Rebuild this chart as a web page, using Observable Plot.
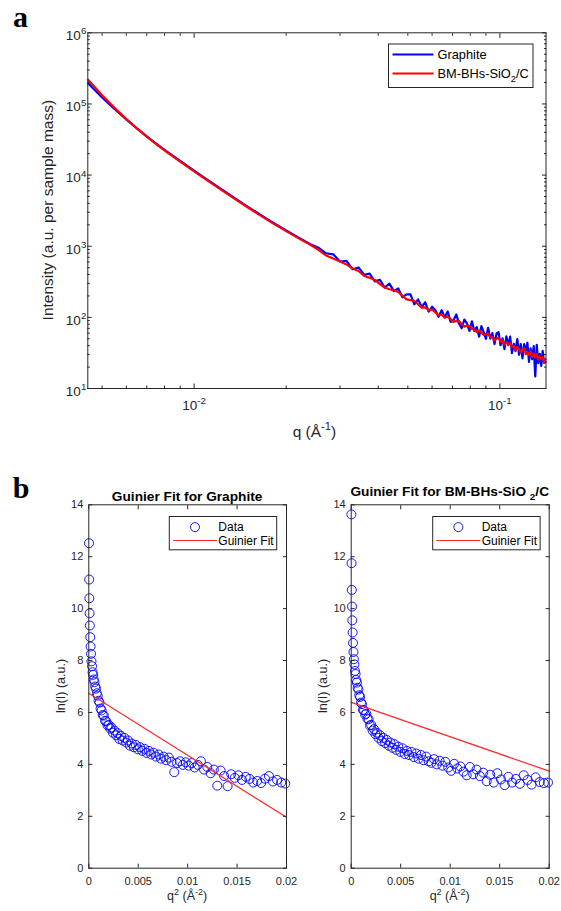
<!DOCTYPE html>
<html>
<head>
<meta charset="utf-8">
<script src="https://cdn.jsdelivr.net/npm/d3@7"></script>
<script src="https://cdn.jsdelivr.net/npm/@observablehq/plot@0.6"></script>
<style>
  html, body { margin: 0; padding: 0; background: #fff; }
  #root { position: relative; width: 561px; height: 911px; overflow: hidden; background: #fff; }
</style>
</head>
<body>
<div id="root"></div>
<script>
// ---------------- DATA ----------------
// Panel a: scattering intensity vs q (log-log)
const qA = [0.0045, 0.005, 0.0055, 0.006, 0.0065, 0.007, 0.0075, 0.008, 0.009, 0.0105, 0.012, 0.0135, 0.015, 0.0165, 0.018, 0.0195, 0.021, 0.0225, 0.024,
  0.0255, 0.027, 0.0285, 0.03, 0.0315, 0.033, 0.0345, 0.036, 0.0375, 0.039, 0.0405, 0.042, 0.0435, 0.045, 0.0465, 0.048, 0.0495, 0.051, 0.0525, 0.054,
  0.0555, 0.057, 0.0585, 0.06, 0.0615, 0.063, 0.0645, 0.066, 0.0675, 0.069, 0.0705, 0.072, 0.0735, 0.075, 0.0765, 0.078, 0.0795, 0.081, 0.0825, 0.084,
  0.0855, 0.087, 0.0885, 0.09, 0.0915, 0.093, 0.0945, 0.096, 0.0975, 0.099, 0.1005, 0.102, 0.1035, 0.105, 0.1065, 0.108, 0.1095, 0.111, 0.1125, 0.114,
  0.1155, 0.117, 0.1185, 0.12, 0.1215, 0.123, 0.1245, 0.126, 0.1275, 0.129, 0.1305, 0.132, 0.1335, 0.135, 0.1365, 0.138, 0.1395, 0.141];
const graphiteI = [195000, 123600, 84530, 60810, 45390, 35080, 27800, 22650, 15810, 9954, 6776, 4819, 3581, 2754, 2183, 1778, 1476, 1247, 1069,
  955, 796, 769, 608, 622, 474, 502, 396, 413, 321, 337, 263, 298, 234, 255, 192, 210, 210, 152, 179,
  140, 163, 120, 141, 126, 102, 126, 100, 121, 86.1, 90.6, 110, 81.8, 70.3, 93.3, 82.2, 64.4, 87.9, 64.4, 73.1,
  53.7, 75.2, 61.9, 49.9, 71.4, 50.2, 60.0, 42.2, 59.3, 61.7, 40.6, 50.8, 35.8, 54.0, 40.7, 53.6, 31.5, 42.4, 33.6, 49.5,
  29.8, 42.1, 26.5, 42.0, 34.1, 44.0, 23.6, 36.6, 25.9, 39.3, 14.8, 41.2, 22.7, 30.7, 20.8, 33.8, 22.9, 23.5];
const bmI = [218800, 132400, 87500, 61500, 45400, 34750, 27480, 22280, 15450, 9727, 6620, 4710, 3500, 2692, 2133, 1738, 1442, 1219, 1045,
  891, 741, 670, 608, 555, 485, 448, 383, 360, 336, 293, 263, 248, 240, 227, 201, 179, 175, 171, 153,
  137, 138, 126, 129, 117, 107, 110, 99, 103, 94.4, 86.5, 89.1, 88.7, 80.7, 74.1, 76.7, 75.7, 68.2, 67.5, 62.2,
  65.3, 61.1, 56.5, 58.6, 59.4, 52.6, 52.2, 47.3, 50.5, 51.9, 45.5, 47.4, 41.1, 44.9, 41.7, 43.6, 37.8, 39.5, 35.2, 38.5,
  35.8, 31.9, 35.7, 36.6, 30.4, 32.6, 29.7, 33.3, 27.8, 31.2, 27.2, 30.5, 25.5, 28.0, 26.2, 27.5, 23.4, 25.8];
const seriesNamesA = ["Graphite", "BM-BHs-SiO_{2}/C"];
const xDomainA = [0.00449, 0.1415];
const yDomainA = [10, 1e6];
const xMajorA = [0.01, 0.1];
const xMinorA = [0.005, 0.006, 0.007, 0.008, 0.009, 0.02, 0.03, 0.04, 0.05, 0.06, 0.07, 0.08, 0.09];
const yMajorA = [1e1, 1e2, 1e3, 1e4, 1e5, 1e6];
const yMinorA = [20, 30, 40, 50, 60, 70, 80, 90, 200, 300, 400, 500, 600, 700, 800, 900,
  2000, 3000, 4000, 5000, 6000, 7000, 8000, 9000, 2e4, 3e4, 4e4, 5e4, 6e4, 7e4, 8e4, 9e4,
  2e5, 3e5, 4e5, 5e5, 6e5, 7e5, 8e5, 9e5];

// Panel b: Guinier plots, ln(I) vs q^2
const qB = [0.0045, 0.006, 0.0075, 0.009, 0.0105, 0.012, 0.0135, 0.015, 0.0165, 0.018, 0.0195, 0.021, 0.0225, 0.024, 0.0255, 0.027, 0.0285, 0.03,
  0.0315, 0.033, 0.0345, 0.036, 0.0375, 0.039, 0.0405, 0.042, 0.0435, 0.045, 0.0465, 0.048, 0.0495, 0.051, 0.0525, 0.054, 0.0555, 0.057, 0.0585, 0.06,
  0.0615, 0.063, 0.0645, 0.066, 0.0675, 0.069, 0.0705, 0.072, 0.0735, 0.075, 0.0765, 0.078, 0.0795, 0.081, 0.0825, 0.084, 0.0855, 0.087, 0.0885, 0.09,
  0.0915, 0.093, 0.0945, 0.096, 0.0975, 0.099, 0.1005, 0.102, 0.1035, 0.105, 0.1065, 0.108, 0.1095, 0.111, 0.1125, 0.114, 0.1155, 0.117, 0.1185, 0.12,
  0.1215, 0.123, 0.1245, 0.126, 0.1275, 0.129, 0.1305, 0.132, 0.1335, 0.135, 0.1365, 0.138, 0.1395, 0.141];
const graphiteLnI = [12.52, 11.12, 10.40, 9.82, 9.35, 8.90, 8.54, 8.26, 7.97, 7.78,
  7.55, 7.45, 7.27, 7.17, 7.00, 6.92, 6.74, 6.65, 6.45, 6.38,
  6.15, 6.08, 5.90, 5.88, 5.68, 5.66, 5.50, 5.52, 5.38, 5.42,
  5.22, 5.30, 5.12, 5.20, 4.98, 5.10, 4.92, 5.02, 4.84, 4.92,
  4.72, 4.80, 4.66, 4.75, 4.58, 4.66, 4.52, 4.60, 4.44, 4.52,
  4.38, 4.45, 4.30, 4.38, 4.22, 4.30, 4.16, 4.26, 4.10, 3.70,
  4.05, 4.12, 3.98, 4.08, 3.95, 4.05, 3.88, 3.98, 4.12, 3.80,
  3.90, 3.66, 3.80, 3.18, 3.76, 3.55, 3.16, 3.62, 3.48, 3.58,
  3.40, 3.52, 3.44, 3.30, 3.36, 3.28, 3.45, 3.55, 3.34, 3.40,
  3.30, 3.26];
const bmLnI = [13.63, 11.75, 10.72, 10.08, 9.55, 9.08, 8.68, 8.33, 8.05, 7.85,
  7.60, 7.48, 7.25, 7.15, 6.95, 6.88, 6.66, 6.60, 6.38, 6.32,
  6.10, 6.08, 5.92, 5.95, 5.76, 5.74, 5.50, 5.52, 5.30, 5.36,
  5.16, 5.22, 5.02, 5.12, 4.90, 5.02, 4.82, 4.94, 4.72, 4.84,
  4.64, 4.78, 4.56, 4.68, 4.48, 4.62, 4.40, 4.52, 4.36, 4.48,
  4.28, 4.42, 4.22, 4.36, 4.16, 4.30, 4.12, 4.06, 4.20, 4.00,
  4.14, 3.95, 4.10, 3.88, 3.75, 4.02, 3.84, 3.92, 3.72, 3.58,
  3.90, 3.62, 3.80, 3.55, 3.68, 3.35, 3.60, 3.30, 3.66, 3.42,
  3.20, 3.52, 3.30, 3.44, 3.25, 3.58, 3.40, 3.22, 3.50, 3.32,
  3.28, 3.30];
const fitQ2 = [0, 0.02];
const graphiteFit = [6.74, 1.96];
const bmFit = [6.39, 3.74];
const legendNamesB = ["Data", "Guinier Fit"];
const xDomainB = [0, 0.02];
const yDomainB = [0, 14];
const xTicksB = [0, 0.005, 0.01, 0.015, 0.02];
const xTickLabelsB = ["0", "0.005", "0.01", "0.015", "0.02"];
const yTicksB = [0, 2, 4, 6, 8, 10, 12, 14];

// ---------------- STYLE ----------------
const FONT = '"Liberation Sans", Arial, Helvetica, sans-serif';
const SERIF = '"Liberation Serif", "Times New Roman", serif';
const AX = "#262626";
const BLUE = "#0000ff";
const RED = "#ff0000";
const root = document.getElementById("root");

function place(node, left, top) {
  node.style.position = "absolute";
  node.style.left = left + "px";
  node.style.top = top + "px";
  root.appendChild(node);
}

// Rich text: ^{..} superscript, _{..} subscript
function rich(t, str, fs) {
  t.text(null);
  const re = /([\^_])\{([^}]*)\}/g;
  const parts = [];
  let last = 0, m;
  while ((m = re.exec(str))) {
    if (m.index > last) parts.push({ s: str.slice(last, m.index), k: "" });
    parts.push({ s: m[2], k: m[1] });
    last = re.lastIndex;
  }
  if (last < str.length) parts.push({ s: str.slice(last), k: "" });
  let cur = 0;
  for (const p of parts) {
    const target = p.k === "^" ? -0.42 * fs : p.k === "_" ? 0.32 * fs : 0;
    const ts = t.append("tspan").text(p.s);
    if (target !== cur) ts.attr("dy", (target - cur).toFixed(2));
    if (p.k) ts.attr("font-size", (fs * 0.72).toFixed(2));
    cur = target;
  }
}
function richify(svg, fs) {
  d3.select(svg).selectAll("text").each(function () {
    const s = this.textContent;
    if (/[\^_]\{/.test(s)) rich(d3.select(this), s, fs);
  });
}
function addText(sel, str, { x, y, size, anchor = "start", rotate = 0, weight = "normal", family = FONT, fill = AX }) {
  const t = sel.append("text")
    .attr("font-family", family).attr("font-size", size).attr("font-weight", weight)
    .attr("fill", fill).attr("text-anchor", anchor);
  if (rotate) t.attr("transform", `translate(${x},${y}) rotate(${rotate})`);
  else t.attr("x", x).attr("y", y);
  rich(t, str, size);
  return t;
}
// MATLAB-style inward ticks on all four sides
function inwardTicks(xt, yt, s) {
  const o = { tickSize: s, fill: "none", label: null, stroke: AX, strokeWidth: 1 };
  return [
    Plot.axisX({ ...o, anchor: "bottom", ticks: xt, dy: -s }),
    Plot.axisX({ ...o, anchor: "top", ticks: xt, dy: s }),
    Plot.axisY({ ...o, anchor: "left", ticks: yt, dx: s }),
    Plot.axisY({ ...o, anchor: "right", ticks: yt, dx: -s })
  ];
}
const powTen = d => `10^{${Math.round(Math.log10(d))}}`;
const baseStyle = { fontFamily: FONT, fontSize: "11px", color: AX, background: "none", overflow: "visible" };

// ---------------- PANEL a ----------------
const WA = 561, HA = 450;
const mA = { l: 87.3, r: 15.5, t: 32.3, b: 62 };
const graphiteA = qA.map((q, i) => ({ q, I: graphiteI[i] }));
const bmA = qA.map((q, i) => ({ q, I: bmI[i] }));

const svgA = Plot.plot({
  width: WA, height: HA,
  marginLeft: mA.l, marginRight: mA.r, marginTop: mA.t, marginBottom: mA.b,
  style: baseStyle,
  x: { type: "log", domain: xDomainA },
  y: { type: "log", domain: yDomainA },
  marks: [
    Plot.line(graphiteA, { x: "q", y: "I", stroke: BLUE, strokeWidth: 2.2 }),
    Plot.line(bmA, { x: "q", y: "I", stroke: RED, strokeWidth: 2.2 }),
    Plot.frame({ stroke: AX }),
    ...inwardTicks(xMajorA, yMajorA, 4.5),
    ...inwardTicks(xMinorA, yMinorA, 2.5),
    Plot.axisX({ anchor: "bottom", ticks: xMajorA, tickSize: 0, tickPadding: 12, tickFormat: powTen, fontSize: 13.5, fill: AX, label: null }),
    Plot.axisY({ anchor: "left", ticks: yMajorA, tickSize: 0, tickPadding: 1.5, tickFormat: powTen, fontSize: 13.5, fill: AX, label: null, dy: 3 })
  ]
});
richify(svgA, 13.5);
place(svgA, 0, 0);
{
  const g = d3.select(svgA);
  const cx = (mA.l + WA - mA.r) / 2;
  const cy = (mA.t + HA - mA.b) / 2;
  addText(g, "q (Å^{-1})", { x: cx - 2, y: 437, size: 15.5, anchor: "middle" });
  addText(g, "Intensity (a.u. per sample mass)", { x: 53, y: cy, size: 15.5, anchor: "middle", rotate: -90 });
  addText(g, "a", { x: 13, y: 27, size: 30, weight: "bold", family: SERIF, fill: "#000" });
  // legend
  const lx = 388.5, ly = 44, lw = 144.5, lh = 43.5;
  const lg = g.append("g");
  lg.append("rect").attr("x", lx).attr("y", ly).attr("width", lw).attr("height", lh)
    .attr("fill", "#fff").attr("stroke", AX).attr("stroke-width", 1);
  [BLUE, RED].forEach((c, i) => {
    const yy = ly + 10.5 + i * 19;
    lg.append("line").attr("x1", lx + 4).attr("x2", lx + 45).attr("y1", yy).attr("y2", yy)
      .attr("stroke", c).attr("stroke-width", 2.2);
    addText(lg, seriesNamesA[i], { x: lx + 49, y: yy + 4.6, size: 12.8, fill: "#000" });
  });
}

// ---------------- PANEL b ----------------
const HB = 441;
const mB = { t: 34.3, b: 43.3 };
function guinier({ title, titleY, lnI, fit, width, mLeft, mRight, legendX, left, tag }) {
  const pts = qB.map((q, i) => ({ q2: q * q, v: lnI[i] }));
  const fitPts = fitQ2.map((x, i) => ({ q2: x, v: fit[i] }));
  const svg = Plot.plot({
    width, height: HB,
    marginLeft: mLeft, marginRight: mRight, marginTop: mB.t, marginBottom: mB.b,
    style: baseStyle,
    x: { domain: xDomainB },
    y: { domain: yDomainB },
    marks: [
      Plot.dot(pts, { x: "q2", y: "v", r: 4.5, stroke: BLUE, strokeWidth: 0.9, fill: "none" }),
      Plot.line(fitPts, { x: "q2", y: "v", stroke: "#ff2a2a", strokeWidth: 1.2 }),
      Plot.frame({ stroke: AX }),
      ...inwardTicks(xTicksB, yTicksB, 4),
      Plot.axisX({ anchor: "bottom", ticks: xTicksB, tickSize: 0, tickPadding: 9,
        tickFormat: d => xTickLabelsB[xTicksB.indexOf(d)], fontSize: 11, fill: AX, label: null }),
      Plot.axisY({ anchor: "left", ticks: yTicksB, tickSize: 0, tickPadding: 5.5, fontSize: 11, fill: AX, label: null })
    ]
  });
  place(svg, left, 470);
  const g = d3.select(svg);
  const cx = (mLeft + width - mRight) / 2;
  const cy = (mB.t + HB - mB.b) / 2;
  addText(g, title, { x: cx, y: titleY, size: 13.7, anchor: "middle", weight: "bold", fill: "#000" });
  addText(g, "q^{2} (Å^{-2})", { x: cx, y: 430, size: 12.5, anchor: "middle" });
  addText(g, "ln(I) (a.u.)", { x: mLeft - 23.8, y: cy, size: 12.5, anchor: "middle", rotate: -90 });
  if (tag) addText(g, tag, { x: 12.7, y: 28, size: 30, weight: "bold", family: SERIF, fill: "#000" });
  // legend
  const ly = 46.5, lw = 107.4, lh = 33.3;
  const lg = g.append("g");
  lg.append("rect").attr("x", legendX).attr("y", ly).attr("width", lw).attr("height", lh)
    .attr("fill", "#fff").attr("stroke", AX).attr("stroke-width", 1);
  lg.append("circle").attr("cx", legendX + 25.7).attr("cy", ly + 10.6).attr("r", 4.5)
    .attr("fill", "none").attr("stroke", BLUE).attr("stroke-width", 0.9);
  addText(lg, legendNamesB[0], { x: legendX + 49, y: ly + 14.8, size: 12, fill: "#000" });
  lg.append("line").attr("x1", legendX + 3.7).attr("x2", legendX + 47.7)
    .attr("y1", ly + 24).attr("y2", ly + 24).attr("stroke", "#ff2a2a").attr("stroke-width", 1.2);
  addText(lg, legendNamesB[1], { x: legendX + 49, y: ly + 28.2, size: 12, fill: "#000" });
}

guinier({ title: "Guinier Fit for Graphite", titleY: 30.5, lnI: graphiteLnI, fit: graphiteFit,
  width: 300, mLeft: 88.3, mRight: 14, legendX: 169.3, left: 0, tag: "b" });
guinier({ title: "Guinier Fit for BM-BHs-SiO _{2}/C", titleY: 26, lnI: bmLnI, fit: bmFit,
  width: 281, mLeft: 70.7, mRight: 12.3, legendX: 152.7, left: 280, tag: null });
</script>
</body>
</html>
